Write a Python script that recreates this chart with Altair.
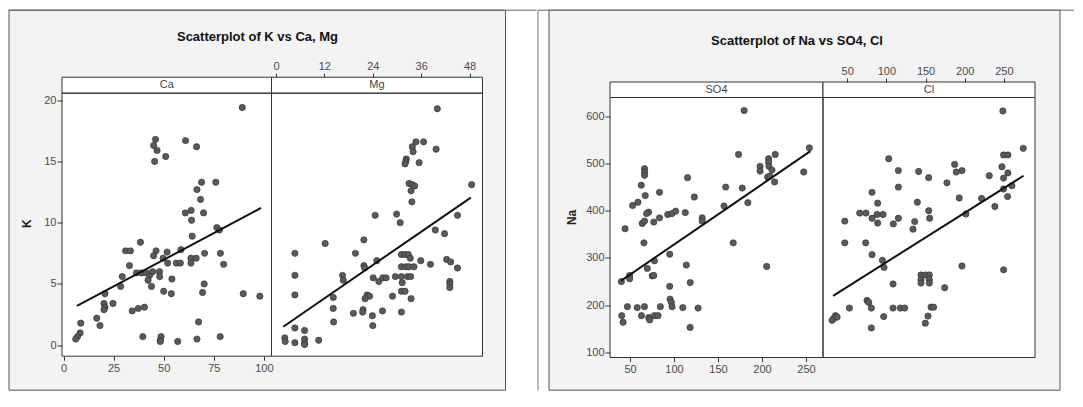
import altair as alt
import pandas as pd

TITLE_L = "Scatterplot of K vs Ca, Mg"
TITLE_R = "Scatterplot of Na vs SO4, Cl"

# (Ca, K)
ca_k = [(89.2, 19.4), (45.9, 16.8), (45.0, 16.3), (46.7, 15.9), (45.5, 15.0), (51.0, 15.4),
        (60.9, 16.7), (66.4, 16.2), (68.9, 13.3), (66.6, 12.7), (76.0, 13.3), (68.4, 11.9),
        (60.8, 10.8), (63.7, 11.0), (63.9, 10.2), (69.9, 10.8), (76.5, 9.6), (77.8, 9.4),
        (64.2, 8.9), (38.4, 8.4), (31.0, 7.7), (33.4, 7.7), (46.2, 7.7), (45.0, 7.3),
        (51.7, 7.6), (49.7, 7.1), (58.6, 7.8), (70.4, 7.5), (78.3, 7.5), (63.6, 7.1),
        (66.2, 7.1), (63.6, 6.7), (56.3, 6.7), (58.3, 6.7), (52.0, 6.7), (79.9, 6.6),
        (32.9, 6.5), (29.3, 5.6), (36.4, 5.9), (39.0, 5.9), (41.4, 5.9), (43.0, 5.7),
        (42.2, 5.3), (44.5, 6.0), (43.9, 4.8), (47.9, 6.0), (48.0, 5.6), (54.1, 5.4),
        (28.5, 4.8), (70.2, 5.0), (50.0, 4.4), (53.8, 4.2), (69.4, 4.3), (89.7, 4.2),
        (98.0, 4.0), (20.7, 4.2), (20.2, 3.4), (20.7, 3.1), (20.2, 2.9), (24.7, 3.4),
        (34.3, 2.8), (37.3, 3.0), (40.4, 3.1), (16.6, 2.2), (18.2, 1.6), (8.6, 1.8),
        (8.3, 1.0), (7.0, 0.7), (6.1, 0.5), (67.4, 1.9), (39.6, 0.7), (48.7, 0.7),
        (48.3, 0.4), (48.3, 0.3), (57.0, 0.3), (66.6, 0.5), (78.2, 0.7)]

# (Mg, K)
mg_k = [(40.0, 19.3), (34.7, 16.6), (36.6, 16.6), (39.7, 16.0), (33.8, 16.2), (34.0, 15.8),
        (35.5, 14.9), (32.3, 15.2), (32.2, 15.0), (32.0, 14.8), (33.0, 13.2), (33.8, 13.1),
        (34.4, 13.0), (33.5, 12.6), (33.7, 11.7), (24.6, 10.6), (29.9, 10.7), (30.8, 10.0),
        (45.0, 10.6), (48.5, 13.1), (39.5, 9.4), (41.8, 9.1), (12.2, 8.3), (21.8, 8.6),
        (19.7, 7.5), (4.7, 7.5), (4.7, 5.7), (4.7, 4.1), (21.8, 6.5), (22.0, 6.3),
        (25.0, 6.9), (31.1, 7.4), (32.0, 7.4), (32.8, 7.4), (33.3, 7.1), (31.1, 6.4),
        (32.2, 6.4), (32.9, 6.4), (34.2, 6.4), (35.9, 6.9), (38.3, 6.6), (42.3, 7.0),
        (43.3, 6.8), (45.0, 6.3), (43.1, 5.2), (43.1, 5.0), (43.1, 4.7), (16.5, 5.7),
        (16.7, 5.3), (24.1, 5.5), (25.5, 5.2), (26.5, 5.5), (27.3, 5.5), (29.6, 5.6),
        (31.1, 5.6), (32.6, 5.6), (33.4, 5.6), (31.3, 5.1), (31.1, 4.4), (32.0, 4.4),
        (28.9, 4.0), (33.5, 3.8), (14.2, 3.9), (22.6, 4.1), (23.2, 4.0), (22.1, 3.8),
        (14.2, 3.0), (21.6, 2.9), (21.5, 2.7), (19.2, 2.6), (26.4, 2.8), (23.9, 2.4),
        (31.1, 2.7), (14.3, 1.9), (24.0, 1.6), (4.7, 1.4), (7.1, 1.2), (2.2, 0.6),
        (2.3, 0.3), (4.7, 0.2), (7.1, 0.5), (7.1, 0.2), (7.1, 0.05), (10.6, 0.4)]

# (SO4, Na)
so4_na = [(179.7, 612), (173.3, 519), (215.0, 519), (207.5, 510), (207.5, 503), (207.9, 494),
          (197.8, 494), (197.8, 484), (211.3, 486), (206.4, 471), (208.7, 473), (214.3, 461),
          (247.4, 482), (253.8, 533), (158.7, 450), (177.5, 448), (156.8, 410), (183.9, 417),
          (167.3, 332), (205.3, 282), (66.5, 489), (66.5, 482), (66.5, 475), (115.4, 470),
          (62.8, 454), (83.5, 439), (67.3, 432), (123.0, 429), (53.0, 411), (59.0, 418),
          (71.1, 397), (68.8, 394), (63.9, 373), (66.5, 378), (77.0, 376), (83.5, 385),
          (92.9, 392), (97.8, 394), (101.9, 399), (112.8, 396), (132.0, 385), (132.0, 378),
          (44.4, 362), (65.8, 332), (95.1, 308), (77.8, 294), (69.6, 278), (75.2, 262),
          (77.0, 263), (49.6, 263), (49.6, 256), (40.2, 250), (114.0, 285), (118.4, 248),
          (95.1, 240), (95.5, 213), (97.0, 206), (97.8, 197), (47.0, 197), (58.2, 195),
          (66.4, 197), (84.5, 197), (110.0, 195), (127.3, 194), (40.6, 178), (42.1, 164),
          (63.0, 178), (71.3, 174), (72.4, 169), (77.7, 178), (81.8, 178), (118.3, 153)]

# (Cl, Na)
cl_na = [(248.7, 611), (274.7, 532), (249.6, 518), (255.1, 518), (247.5, 493), (255.1, 480),
         (249.6, 469), (260.2, 453), (249.6, 446), (254.7, 430), (231.3, 474), (238.5, 409),
         (221.5, 426), (201.5, 393), (193.0, 427), (187.1, 498), (189.2, 482), (196.5, 485),
         (177.3, 459), (154.0, 470), (141.2, 483), (115.3, 485), (115.3, 450), (103.0, 510),
         (81.7, 439), (88.9, 416), (66.0, 395), (74.0, 395), (81.7, 384), (88.1, 392),
         (95.7, 392), (88.9, 374), (108.9, 372), (115.3, 384), (136.1, 377), (134.0, 361),
         (154.0, 400), (155.2, 384), (139.5, 418), (46.9, 378), (46.9, 332), (73.6, 332),
         (81.7, 307), (94.9, 295), (97.0, 280), (196.5, 283), (249.6, 275), (108.5, 245),
         (144.2, 264), (150.1, 264), (154.8, 264), (144.2, 254), (154.8, 254), (144.2, 247),
         (154.8, 247), (174.4, 237), (75.3, 210), (77.5, 206), (80.8, 194), (52.8, 194),
         (108.5, 194), (117.8, 194), (123.4, 194), (157.0, 196), (160.3, 196), (96.6, 176),
         (153.1, 177), (149.7, 162), (80.8, 152), (32.8, 172), (35.0, 178), (37.1, 175),
         (30.7, 168)]

# fitted regression lines (end points)
fit_ca = [(6.7, 3.2), (98.6, 11.2)]
fit_mg = [(1.8, 1.5), (48.3, 12.05)]
fit_so4 = [(40, 252), (255, 526)]
fit_cl = [(32, 220), (275, 474)]

k_ticks = [0, 5, 10, 15, 20]
na_ticks = [100, 200, 300, 400, 500, 600]
ca_ticks = [0, 25, 50, 75, 100]
mg_ticks = [0, 12, 24, 36, 48]
so4_ticks = [50, 100, 150, 200, 250]
cl_ticks = [50, 100, 150, 200, 250]

FONT = "Liberation Sans"
INK = "#333333"
LBL = "#4a4a4a"
PT_FILL = "#5a5a5a"
PT_STROKE = "#2f2f2f"
FRAME_FILL = "#f3f3f3"

one = pd.DataFrame({"d": [0]})


def ax(**kw):
    base = dict(domain=False, grid=False, ticks=True, tickColor=INK, tickWidth=1,
                labelFont=FONT, labelFontSize=11, labelColor=LBL, labelFlush=False,
                zindex=1)
    base.update(kw)
    return alt.Axis(**base)


def panel(pairs, fit, xf, yf, xdom, xrng, ydom, yrng, xticks, yticks, orient, top_off,
          ytx, yty):
    df = pd.DataFrame(pairs, columns=[xf, yf])
    fd = pd.DataFrame(fit, columns=[xf, yf])
    if orient == "bottom":
        xa = ax(orient="bottom", values=xticks, title=None, tickSize=4, labelPadding=2)
    else:
        xa = ax(orient="top", values=xticks, title=None, tickSize=4, labelPadding=2,
                offset=top_off)
    ya = ax(orient="left", values=yticks, title=yf, tickSize=5, labelPadding=1,
            titleFont=FONT, titleFontSize=12, titleFontWeight="bold", titleColor="#222222",
            titleAngle=270, titleX=ytx, titleY=yty, titleAlign="center",
            titleBaseline="middle")
    xs = alt.Scale(domain=xdom, range=xrng, nice=False, zero=False)
    ys = alt.Scale(domain=ydom, range=yrng, nice=False, zero=False)
    enc = dict(x=alt.X(f"{xf}:Q", scale=xs, axis=xa),
               y=alt.Y(f"{yf}:Q", scale=ys, axis=ya))
    pts = alt.Chart(df).mark_circle(size=40, fill=PT_FILL, stroke=PT_STROKE, strokeWidth=0.6,
                                    opacity=1, fillOpacity=1).encode(**enc)
    line = alt.Chart(fd).mark_line(color="#111111", strokeWidth=2).encode(**enc)
    return alt.layer(pts, line)


def rect(x1, x2, y1, y2, fill="white", stroke=INK, sw=1.0, fo=1.0):
    return alt.Chart(one).mark_rect(fill=fill, fillOpacity=fo, stroke=stroke,
                                    strokeWidth=sw).encode(
        x=alt.value(x1), x2=alt.value(x2), y=alt.value(y1), y2=alt.value(y2))


def hline(x1, x2, y, color="#666666", sw=1.0):
    return alt.Chart(one).mark_rule(color=color, strokeWidth=sw).encode(
        x=alt.value(x1), x2=alt.value(x2), y=alt.value(y))


def vline(x, y1, y2, color="#666666", sw=1.0):
    return alt.Chart(one).mark_rule(color=color, strokeWidth=sw).encode(
        x=alt.value(x), y=alt.value(y1), y2=alt.value(y2))


def label(s, x, y, size=11, weight="normal", color="#444444"):
    return alt.Chart(one).mark_text(font=FONT, fontSize=size, fontWeight=weight, color=color,
                                    align="center", baseline="middle").encode(
        x=alt.value(x), y=alt.value(y), text=alt.value(s))


# ---------------- left figure ----------------
# the two views share their top edge; the left plot area starts a little higher
WL, SL, SHL, DY = 420.5, 209.5, 16, 4.3
TOPL = -DY              # plot-area top inside the view
HL = 263 - DY           # view height (bottom of plot area)
left = alt.layer(
    rect(-53, 443.5, -87.3, 292.7, fill=FRAME_FILL, stroke="#555555", sw=1),
    hline(-53.5, 474.5, -87.3),
    rect(0, WL, TOPL, HL, fill="white", stroke="white", sw=0),
    rect(0, SL, TOPL - SHL, TOPL, fill="white", stroke=INK),
    rect(SL, WL, TOPL - SHL, TOPL, fill="white", stroke=INK),
    panel(ca_k, fit_ca, "Ca", "K", [-0.75, 103.8], [0, SL], [-0.9, 20.57], [HL, TOPL],
          ca_ticks, k_ticks, "bottom", 0, -35.7, 125.7),
    panel(mg_k, fit_mg, "Mg", "K", [-1.1, 51.2], [SL, WL], [-0.9, 20.57], [HL, TOPL],
          mg_ticks, k_ticks, "top", SHL + DY, -35.7, 125.7),
    rect(0, SL, TOPL, HL, fill="white", fo=0, stroke=INK),
    rect(SL, WL, TOPL, HL, fill="white", fo=0, stroke=INK),
    label(TITLE_L, 195.5, -60.3, size=13, weight="bold", color="#111111"),
    label("Ca", SL / 2, TOPL - SHL / 2),
    label("Mg", (SL + WL) / 2, TOPL - SHL / 2),
).resolve_scale(x="independent").properties(width=WL, height=HL)

# ---------------- right figure ----------------
WR, HR, SR, SHR = 425, 260, 213, 15.5
right = alt.layer(
    vline(-72, -87.3, 292.7, color="#777777"),
    hline(-72, 464, -87.3),
    rect(-61, 450, -87.3, 292.7, fill=FRAME_FILL, stroke="#555555", sw=1),
    rect(0, WR, 0, HR, fill="white", stroke="white", sw=0),
    rect(0, SR, -SHR, 0, fill="white", stroke=INK),
    rect(SR, WR, -SHR, 0, fill="white", stroke=INK),
    panel(so4_na, fit_so4, "SO4", "Na", [27.25, 269.3], [0, SR], [89.4, 639.6], [HR, 0],
          so4_ticks, na_ticks, "bottom", 0, -38.6, 119.4),
    panel(cl_na, fit_cl, "Cl", "Na", [19.1, 289.7], [SR, WR], [89.4, 639.6], [HR, 0],
          cl_ticks, na_ticks, "top", SHR, -38.6, 119.4),
    rect(0, SR, 0, HR, fill="white", fo=0, stroke=INK),
    rect(SR, WR, 0, HR, fill="white", fo=0, stroke=INK),
    label(TITLE_R, 187, -56.6, size=13, weight="bold", color="#111111"),
    label("SO4", SR / 2, -SHR / 2),
    label("Cl", (SR + WR) / 2, -SHR / 2),
).resolve_scale(x="independent").properties(width=WR, height=HR)

chart = alt.hconcat(left, right, spacing=0).properties(
    padding={"left": 0, "top": 1.5, "right": 0, "bottom": 0},
    background="white",
).configure_view(strokeWidth=0)

chart.save("out.html", embed_options={"renderer": "svg", "actions": False})
